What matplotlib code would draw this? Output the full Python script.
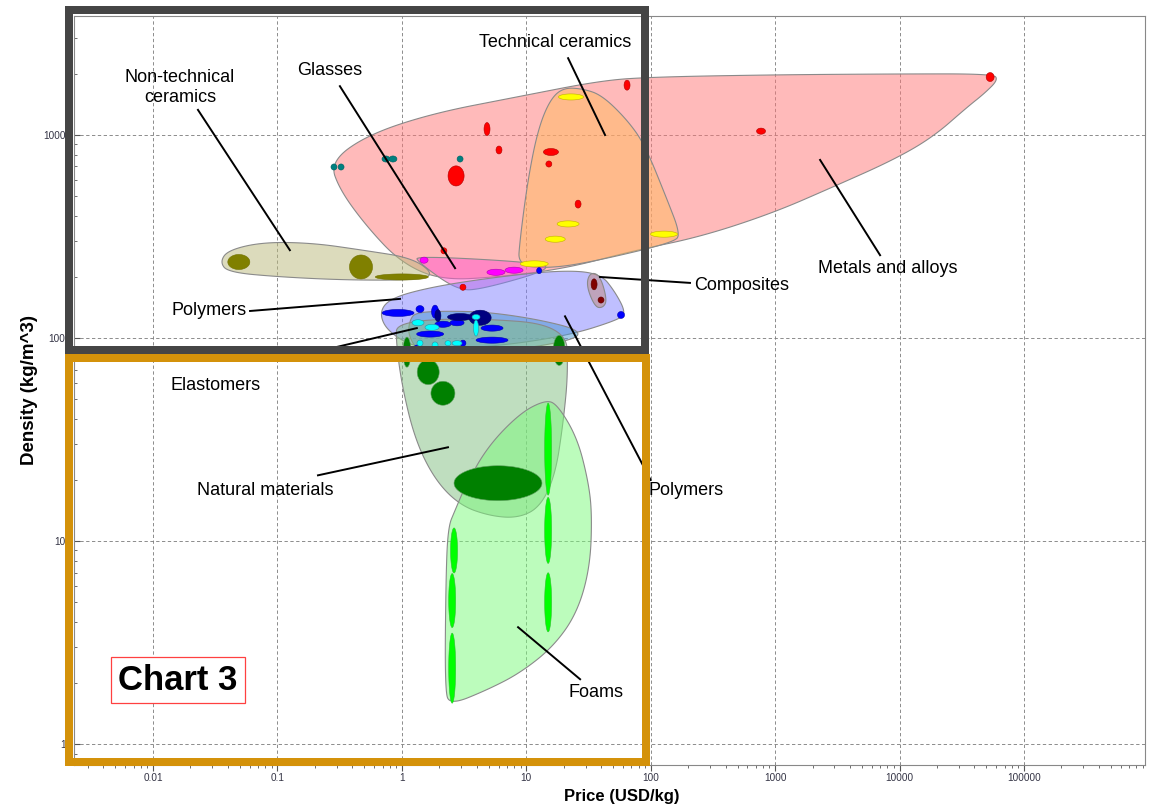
import numpy as np
import matplotlib
matplotlib.use("Agg")
import matplotlib.pyplot as plt
from matplotlib.colors import to_rgba
from matplotlib.patches import Rectangle

plt.rcParams['font.family'] = ['Liberation Sans', 'DejaVu Sans']

# ---- family envelopes: outline points (price USD/kg, density kg/m^3) ----
metals_price = [0.265, 0.525, 1.78, 8.4, 39, 99, 960, 10100, 56500, 62000, 48000, 34900, 18600,
                8900, 2920, 960, 250, 72, 21.3, 6.15, 2.03, 0.97, 0.525, 0.318]
metals_rho = [7360, 10000, 12800, 15400, 18500, 19300, 19800, 20000, 20000, 18700, 16000, 13700, 9780,
              7530, 5550, 4130, 3150, 2690, 2210, 2000, 1930, 2370, 3530, 5360]

techcer_price = [19.8, 28.6, 40.6, 64.6, 90, 136, 172, 157, 39, 16.4, 8.6, 8.9, 10.3, 12.4, 15.5]
techcer_rho = [17100, 16900, 15700, 11900, 8930, 4790, 3290, 2970, 2420, 2210, 2260, 3040,
               6000, 10600, 14900]

nontech_price = [0.0346, 0.0401, 0.0766, 0.193, 0.488, 1.23, 1.85, 1.23, 0.363, 0.105, 0.0401]
nontech_rho = [2370, 2710, 2970, 2940, 2710, 2480, 2040, 1930, 1930, 2000, 2110]

glass_price = [1.30, 10.7, 17.1, 4.42, 2.78, 1.35]
glass_rho = [2540, 2370, 2210, 1740, 1720, 2370]

polymer_price = [0.656, 0.803, 1.69, 5.12, 18.7, 39.2, 51.8, 63.4, 54.7, 22.5, 6.15, 1.40, 0.775]
polymer_rho = [1330, 1570, 1780, 1980, 2160, 2090, 1690, 1330, 1230, 1035, 914, 873, 1070]

composite_price = [32.6, 39.2, 44.7, 41.4, 35.7, 30.3]
composite_rho = [2110, 2040, 1540, 1410, 1420, 1820]

elast_price = [1.16, 1.30, 2.44, 5.12, 12.9, 27.1, 24.7, 6.15, 1.40, 1.12]
elast_rho = [1230, 1340, 1360, 1340, 1230, 1095, 978, 853, 834, 1035]

natural_price = [0.914, 3.53, 20.9, 21.7, 19.8, 17.1, 12.9, 8.6, 5.12, 2.94, 1.85, 1.28, 1.0, 0.897]
natural_rho = [1200, 1260, 1160, 673, 381, 211, 147, 130, 133, 150, 200, 315, 586, 978]

foam_price = [14.2, 17.7, 25.6, 31.4, 33.8, 32.6, 25.6, 16.4, 8.9, 4.84, 2.44, 2.22, 2.26,
              2.35, 2.68, 3.22, 4.84, 8.9]
foam_rho = [495, 473, 325, 200, 137, 74.5, 44.2, 30.1, 22.4, 18.5, 15.6, 18.5, 64.3,
            117, 142, 185, 290, 427]

# ---- material bubbles: centre price, centre density, price span and density span (decades) ----
metal_p = [53500, 64.6, 771, 4.84, 6.04, 2.73, 15.8, 15.2, 26.1, 2.18, 3.1]
metal_r = [19300, 17600, 10450, 10700, 8440, 6290, 8250, 7200, 4570, 2690, 1780]
metal_dp = [0.064, 0.048, 0.072, 0.048, 0.048, 0.129, 0.121, 0.048, 0.048, 0.048, 0.048]
metal_dr = [0.044, 0.049, 0.030, 0.064, 0.039, 0.099, 0.034, 0.030, 0.039, 0.030, 0.030]

lowmelt_p = [0.285, 0.325, 0.746, 0.849, 2.94]
lowmelt_r = [6960, 6960, 7620, 7620, 7620]
lowmelt_dp = [0.048, 0.048, 0.064, 0.064, 0.048]
lowmelt_dr = [0.030, 0.030, 0.030, 0.030, 0.030]

techcer_p = [22.9, 21.7, 17.1, 128, 11.6]
techcer_r = [15400, 3650, 3070, 3250, 2320]
techcer_dp = [0.201, 0.177, 0.161, 0.217, 0.225]
techcer_dr = [0.030, 0.030, 0.030, 0.030, 0.030]

glass_p = [1.51, 5.71, 7.98]
glass_r = [2420, 2110, 2160]
glass_dp = [0.064, 0.145, 0.145]
glass_dr = [0.030, 0.030, 0.030]

nontech_p = [0.049, 0.47, 1.0]
nontech_r = [2370, 2240, 2000]
nontech_dp = [0.177, 0.185, 0.426]
nontech_dr = [0.074, 0.118, 0.030]

composite_p = [35.1, 39.9]
composite_r = [1840, 1540]
composite_dp = [0.048, 0.048]
composite_dr = [0.054, 0.030]

polymer_p = [12.7, 57.8, 0.933, 1.40, 1.85, 2.14, 2.78, 5.31, 1.69, 5.31, 3.1, 1.32]
polymer_r = [2150, 1300, 1330, 1390, 1350, 1170, 1190, 1120, 1047, 977, 944, 893]
polymer_dp = [0.040, 0.056, 0.257, 0.064, 0.056, 0.129, 0.113, 0.177, 0.217, 0.257, 0.048, 0.048]
polymer_dr = [0.030, 0.034, 0.034, 0.034, 0.064, 0.030, 0.030, 0.030, 0.030, 0.030, 0.030, 0.030]

dense_polymer_p = [4.26, 2.94, 1.95]
dense_polymer_r = [1260, 1270, 1290]
dense_polymer_dp = [0.177, 0.201, 0.048]
dense_polymer_dr = [0.074, 0.034, 0.059]

elast_p = [1.35, 1.75, 3.95, 3.95, 1.40, 1.85, 2.35, 2.78]
elast_r = [1190, 1130, 1120, 1270, 944, 925, 944, 944]
elast_dp = [0.096, 0.113, 0.040, 0.064, 0.048, 0.048, 0.048, 0.080]
elast_dr = [0.030, 0.030, 0.079, 0.025, 0.030, 0.030, 0.025, 0.025]

natural_p = [1.10, 1.63, 2.14, 5.93, 18.4]
natural_r = [853, 680, 535, 193, 870]
natural_dp = [0.064, 0.177, 0.193, 0.707, 0.096]
natural_dr = [0.148, 0.123, 0.118, 0.172, 0.148]

foam_p = [15.0, 15.0, 15.0, 2.63, 2.54, 2.54]
foam_r = [284, 113, 50, 90, 51, 23.7]
foam_dp = [0.056, 0.056, 0.056, 0.056, 0.056, 0.056]
foam_dr = [0.453, 0.325, 0.291, 0.222, 0.266, 0.345]

# ---- labels: text, text position, leader line start, leader line end ----
labels = [
    ("Technical ceramics", (17.1, 28700), (21.7, 23900), (43, 10000)),
    ("Non-technical\nceramics", (0.0165, 17200), (0.023, 13300), (0.126, 2710)),
    ("Glasses", (0.265, 20900), (0.318, 17400), (2.68, 2210)),
    ("Metals and alloys", (8090, 2190), (6980, 2560), (2300, 7540)),
    ("Composites", (543, 1820), (207, 1870), (39.2, 2000)),
    ("Polymers", (0.0282, 1370), (0.0603, 1360), (0.968, 1560)),
    ("Elastomers", (0.032, 581), (0.2, 853), (1.32, 1120)),
    ("Natural materials", (0.0795, 178), (0.212, 211), (2.35, 290)),
    ("Polymers", (193, 178), (100, 200), (20.5, 1280)),
    ("Foams", (36.4, 18.0), (27.1, 20.9), (8.6, 37.7)),
]

x_ticks = [0.01, 0.1, 1, 10, 100, 1000, 10000, 100000]
x_tick_labels = ["0.01", "0.1", "1", "10", "100", "1000", "10000", "100000"]
y_ticks = [10, 100, 1000, 10000]
y_tick_labels = ["10", "100", "1000", "10000"]


def chaikin(px, py, n=4):
    pts = np.column_stack([np.log10(px), np.log10(py)])
    for _ in range(n):
        nxt = np.roll(pts, -1, axis=0)
        q = 0.75 * pts + 0.25 * nxt
        r = 0.25 * pts + 0.75 * nxt
        pts = np.empty((2 * len(q), 2))
        pts[0::2] = q
        pts[1::2] = r
    return 10 ** pts[:, 0], 10 ** pts[:, 1]


def envelope(ax, px, py, color, z, alpha=0.5):
    xs, ys = chaikin(px, py)
    ax.fill(xs, ys, facecolor=to_rgba(color, alpha), edgecolor='#8a8a8a', lw=0.8, zorder=z)


def bubbles(ax, p, r, dp, dr, color, edge):
    t = np.linspace(0, 2 * np.pi, 80)
    for pc, rc, a, b in zip(p, r, dp, dr):
        xs = 10 ** (np.log10(pc) + a / 2 * np.cos(t))
        ys = 10 ** (np.log10(rc) + b / 2 * np.sin(t))
        ax.fill(xs, ys, facecolor=color, edgecolor=edge, lw=0.4, zorder=5)


fig = plt.figure(figsize=(11.58, 8.07), dpi=100)
ax = fig.add_axes([0.0639, 0.052, 0.9249, 0.928])
ax.set_xscale('log')
ax.set_yscale('log')
ax.set_xlim(0.00232, 9.4e5)
ax.set_ylim(7.9, 38500)

envelope(ax, metals_price, metals_rho, '#FF7777', 1.0)
envelope(ax, techcer_price, techcer_rho, '#FFBB5D', 1.1)
envelope(ax, nontech_price, nontech_rho, '#BBB97B', 1.2)
envelope(ax, glass_price, glass_rho, '#FF55CC', 1.3)
envelope(ax, polymer_price, polymer_rho, '#8080FF', 1.4)
envelope(ax, composite_price, composite_rho, '#C08878', 1.5)
envelope(ax, elast_price, elast_rho, '#4997D1', 1.6)
envelope(ax, natural_price, natural_rho, '#81BF81', 1.7)
envelope(ax, foam_price, foam_rho, '#7BFB7B', 1.8)

bubbles(ax, metal_p, metal_r, metal_dp, metal_dr, '#FF0000', '#B00000')
bubbles(ax, lowmelt_p, lowmelt_r, lowmelt_dp, lowmelt_dr, '#008080', '#006060')
bubbles(ax, techcer_p, techcer_r, techcer_dp, techcer_dr, '#FFFF00', '#C0B000')
bubbles(ax, glass_p, glass_r, glass_dp, glass_dr, '#FF00FF', '#B000B0')
bubbles(ax, nontech_p, nontech_r, nontech_dp, nontech_dr, '#808000', '#707000')
bubbles(ax, composite_p, composite_r, composite_dp, composite_dr, '#800000', '#600000')
bubbles(ax, natural_p, natural_r, natural_dp, natural_dr, '#008000', '#60A060')
bubbles(ax, polymer_p, polymer_r, polymer_dp, polymer_dr, '#0000FF', '#0000B0')
bubbles(ax, dense_polymer_p, dense_polymer_r, dense_polymer_dp, dense_polymer_dr, '#000080', '#000060')
bubbles(ax, elast_p, elast_r, elast_dp, elast_dr, '#00FFFF', '#3090A0')
bubbles(ax, foam_p, foam_r, foam_dp, foam_dr, '#00FF00', '#30C030')

for text, pos, start, end in labels:
    ax.plot([start[0], end[0]], [start[1], end[1]], color='black', lw=1.4, zorder=6)
    ax.text(pos[0], pos[1], text, ha='center', va='center', fontsize=13, zorder=7,
            linespacing=1.25)

ax.set_xticks(x_ticks)
ax.set_xticklabels(x_tick_labels)
ax.set_yticks(y_ticks)
ax.set_yticklabels(y_tick_labels)
ax.tick_params(axis='x', which='major', direction='out', length=4, pad=1.5,
               labelsize=7.2, labelcolor='#333344', color='#555555')
ax.tick_params(axis='x', which='minor', direction='out', length=2.5, color='#555555')
ax.tick_params(axis='y', which='major', direction='in', length=4, pad=2,
               labelsize=7.2, labelcolor='#333344', color='#555555')
ax.tick_params(axis='y', which='minor', direction='in', length=2.5, color='#555555')
ax.grid(which='major', color='#7a7a7a', ls=(0, (4, 3)), lw=0.6)
ax.set_axisbelow(True)
for sp in ax.spines.values():
    sp.set_color('#888888')
    sp.set_linewidth(0.8)

fig.text(622 / 1158, 1 - 796 / 807, "Price (USD/kg)", ha='center', va='center',
         fontsize=12, fontweight='bold')
fig.text(30 / 1158, 1 - 390 / 807, "Density (kg/m^3)", ha='center', va='center',
         rotation=90, fontsize=13.5, fontweight='bold')

fig.text(178 / 1158, 1 - 680 / 807, "Chart 3", ha='center', va='center', fontsize=25,
         fontweight='bold', zorder=10,
         bbox=dict(boxstyle='square,pad=0.2', facecolor='white', edgecolor='#FF4040', lw=0.9))

# highlight frames drawn over the axes
lw_pt = 8 * 72 / fig.dpi
fig.add_artist(Rectangle((69 / 1158, 1 - 350 / 807), (645 - 69) / 1158, (350 - 10) / 807,
                         transform=fig.transFigure, fill=False, edgecolor='#454545',
                         lw=lw_pt, joinstyle='miter', zorder=20))
fig.add_artist(Rectangle((69 / 1158, 1 - 762 / 807), (646 - 69) / 1158, (762 - 358) / 807,
                         transform=fig.transFigure, fill=False, edgecolor='#D4920A',
                         lw=lw_pt, joinstyle='miter', zorder=20))

fig.savefig('out.png', dpi=100)
